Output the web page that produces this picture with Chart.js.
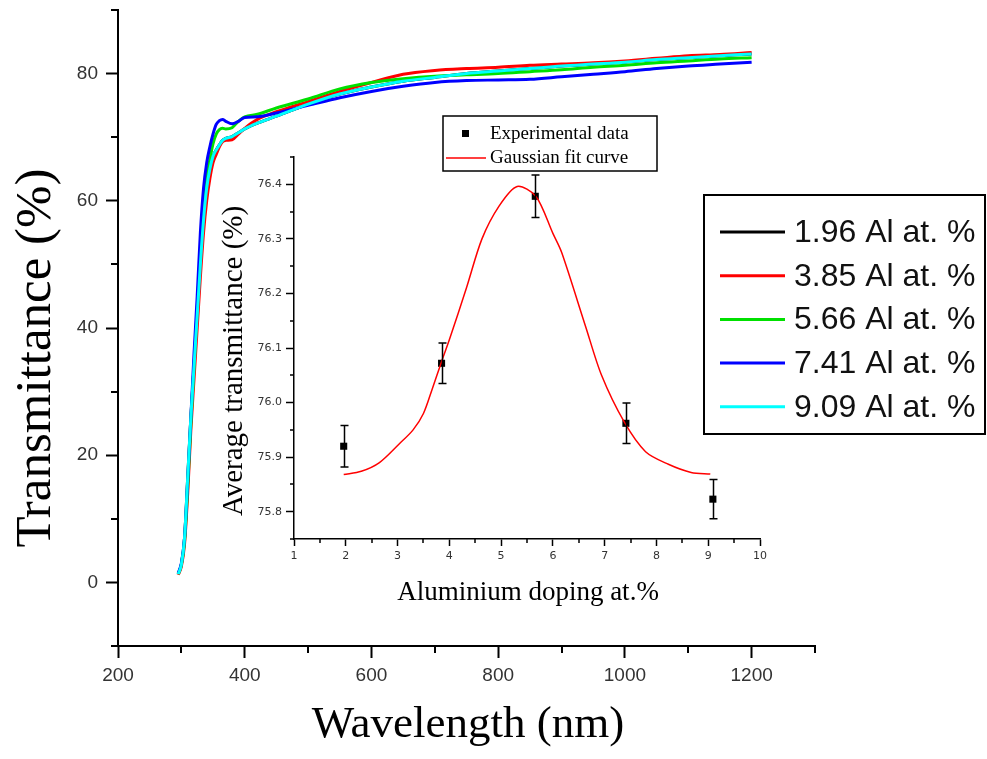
<!DOCTYPE html>
<html>
<head>
<meta charset="utf-8">
<title>Transmittance of Al-doped films</title>
<script src="https://cdn.jsdelivr.net/npm/chart.js@4.4.1/dist/chart.umd.min.js"></script>
<style>
body{margin:0;background:#fff;}
#wrap{position:relative;width:987px;height:759px;background:#fff;}
#wrap canvas{position:absolute;left:0;top:0;}
#insetChart{pointer-events:none;}
</style>
</head>
<body>
<div id="wrap">
<canvas id="mainChart" width="987" height="759"></canvas>
<canvas id="insetChart" width="987" height="759"></canvas>
</div>
<script>
// ---- spectra: wavelength (nm) vs transmittance (%) ----
const wavelength = [295,300,305,310,315,320,325,330,335,340,345,350,355,360,365,370,380,390,400,420,450,500,550,600,650,700,750,800,850,900,950,1000,1050,1100,1150,1200];

// 1.96 at.% sits underneath the 9.09 curve
const t196 = [1.3,2.8,7,16.5,26,34,42,50,57,62,65,67,68,68.8,69.5,69.8,70.1,70.7,71.3,72.2,73.3,75.2,76.8,77.9,78.8,79.4,80.0,80.4,80.8,81.2,81.5,81.8,82.2,82.5,82.8,83.1];
const t385 = [1.2,2.5,6,14,24,32,40,48,55,60,63.5,66,67.3,68.5,69.3,69.5,69.6,70.5,71.4,72.8,74.0,75.6,77.2,78.6,79.9,80.5,80.8,81.0,81.3,81.5,81.7,82.0,82.4,82.8,83.0,83.3];
const t566 = [1.3,2.8,6.5,15,25,34,43,52,59,63.5,66.5,69,70.5,71.2,71.4,71.3,71.5,72.5,73.2,73.6,74.6,76.0,77.6,78.6,79.2,79.6,79.8,80.0,80.3,80.6,81.0,81.3,81.7,82.0,82.3,82.5];
const t741 = [1.5,3,7,16,26,36,45,55,62,66,68.5,70.5,72,72.6,72.8,72.5,72.1,72.5,73.1,73.2,73.8,75.0,76.2,77.2,78.0,78.6,78.9,79.0,79.1,79.5,79.9,80.3,80.8,81.2,81.5,81.8];
const t909 = [1.3,2.8,7,16.5,26,34,42,50,57,62,65,67,68,68.8,69.5,69.8,70.1,70.7,71.3,72.2,73.3,75.2,76.8,77.9,78.8,79.4,80.0,80.4,80.8,81.2,81.5,81.8,82.2,82.5,82.8,83.1];

const spectra = [t196, t385, t566, t741, t909];
const spectraLabels = ['1.96 Al at. %','3.85 Al at. %','5.66 Al at. %','7.41 Al at. %','9.09 Al at. %'];
const spectraColors = ['#000000','#ff0000','#00e000','#0000ff','#00ffff'];

const xMajor = [200,400,600,800,1000,1200];
const xMinor = [300,500,700,900,1100,1300];
const yMajor = [0,20,40,60,80];
const yMinor = [-10,10,30,50,70,90];

// ---- inset: average transmittance vs doping ----
const doping = [1.96,3.85,5.66,7.41,9.09];
const avgT = [75.92,76.072,76.378,75.962,75.823];
const avgTErr = [0.038,0.037,0.039,0.037,0.036];
const fitX = [1.96,2.3,2.65,3.04,3.3,3.5,3.67,3.85,4.0,4.33,4.63,4.96,5.31,5.67,6.0,6.17,6.63,6.94,7.38,7.79,8.23,8.67,9.04];
const fitY = [75.868,75.874,75.89,75.925,75.95,75.98,76.025,76.075,76.115,76.21,76.30,76.36,76.396,76.378,76.31,76.275,76.14,76.05,75.964,75.91,75.887,75.872,75.869];

const insetXMajor = [1,2,3,4,5,6,7,8,9,10];
const insetXMinor = [1.5,2.5,3.5,4.5,5.5,6.5,7.5,8.5,9.5];
const insetYMajor = [75.8,75.9,76.0,76.1,76.2,76.3,76.4];
const insetYMinor = [75.75,75.85,75.95,76.05,76.15,76.25,76.35,76.45];

const SERIF = '"Liberation Serif", "Times New Roman", serif';
const SANS = '"Liberation Sans", Arial, sans-serif';
const WIDE_SANS = '"DejaVu Sans", sans-serif';

// short ticks between the labelled ones
function minorTicks(xs, ys, len, width) {
  return {
    id: 'minorTicks',
    afterDraw(chart) {
      const {ctx, chartArea, scales} = chart;
      ctx.save();
      ctx.strokeStyle = '#000';
      ctx.lineWidth = width;
      ctx.beginPath();
      xs.forEach(v => {
        const px = Math.round(scales.x.getPixelForValue(v));
        ctx.moveTo(px, chartArea.bottom);
        ctx.lineTo(px, chartArea.bottom + len);
      });
      ys.forEach(v => {
        const py = Math.round(scales.y.getPixelForValue(v));
        ctx.moveTo(chartArea.left, py);
        ctx.lineTo(chartArea.left - len, py);
      });
      ctx.stroke();
      ctx.restore();
    }
  };
}

// axis titles, placed by hand
function axisTitles(items) {
  return {
    id: 'axisTitles',
    afterDraw(chart) {
      const ctx = chart.ctx;
      items.forEach(t => {
        ctx.save();
        ctx.translate(t.x, t.y);
        if (t.rotate) ctx.rotate(-Math.PI / 2);
        ctx.font = t.font;
        ctx.fillStyle = '#000';
        ctx.textAlign = 'center';
        ctx.textBaseline = 'alphabetic';
        ctx.fillText(t.text, 0, 0);
        ctx.restore();
      });
    }
  };
}

const spectraLegend = {
  id: 'spectraLegend',
  afterDraw(chart) {
    const ctx = chart.ctx;
    ctx.save();
    ctx.strokeStyle = '#000';
    ctx.lineWidth = 2;
    ctx.strokeRect(704, 195, 281, 239);
    ctx.font = '32px ' + SANS;
    ctx.textBaseline = 'middle';
    spectraLabels.forEach((lab, i) => {
      const y = 232 + i * 43.7;
      ctx.strokeStyle = spectraColors[i];
      ctx.lineWidth = 3;
      ctx.beginPath();
      ctx.moveTo(720, y);
      ctx.lineTo(785, y);
      ctx.stroke();
      ctx.fillStyle = '#111';
      ctx.fillText(lab, 794, y + 1);
    });
    ctx.restore();
  }
};

const errorBars = {
  id: 'errorBars',
  afterDatasetsDraw(chart) {
    const {ctx, scales} = chart;
    ctx.save();
    ctx.strokeStyle = '#000';
    ctx.lineWidth = 1.5;
    ctx.beginPath();
    doping.forEach((d, i) => {
      const x = Math.round(scales.x.getPixelForValue(d)) + 0.5;
      const top = scales.y.getPixelForValue(avgT[i] + avgTErr[i]);
      const bot = scales.y.getPixelForValue(avgT[i] - avgTErr[i]);
      ctx.moveTo(x, top); ctx.lineTo(x, bot);
      ctx.moveTo(x - 4, top); ctx.lineTo(x + 4, top);
      ctx.moveTo(x - 4, bot); ctx.lineTo(x + 4, bot);
    });
    ctx.stroke();
    ctx.restore();
  }
};

const insetLegend = {
  id: 'insetLegend',
  afterDraw(chart) {
    const ctx = chart.ctx;
    ctx.save();
    ctx.fillStyle = '#fff';
    ctx.fillRect(443, 116, 214, 55);
    ctx.strokeStyle = '#000';
    ctx.lineWidth = 1.5;
    ctx.strokeRect(443, 116, 214, 55);
    ctx.fillStyle = '#000';
    ctx.fillRect(462, 130, 7, 7);
    ctx.strokeStyle = '#ff0000';
    ctx.lineWidth = 1.5;
    ctx.beginPath();
    ctx.moveTo(446, 158);
    ctx.lineTo(486, 158);
    ctx.stroke();
    ctx.fillStyle = '#000';
    ctx.font = '19px ' + SERIF;
    ctx.textBaseline = 'middle';
    ctx.fillText('Experimental data', 490, 134);
    ctx.fillText('Gaussian fit curve', 490, 158);
    ctx.restore();
  }
};

function axisOpts(min, max, ticks, label, font, tickLen, lineW, pad) {
  return {
    type: 'linear', min: min, max: max,
    afterBuildTicks: s => { s.ticks = ticks.map(v => ({value: v})); },
    grid: {drawOnChartArea: false, drawTicks: true, tickLength: tickLen, tickWidth: lineW, tickColor: '#000'},
    border: {display: true, color: '#000', width: lineW},
    ticks: {autoSkip: false, maxRotation: 0, padding: pad, color: '#333', font: font, callback: label}
  };
}

// fixed axis box sizes, and no extra room for overhanging labels
function fixX(h) {
  return s => { s.height = h; s.paddingLeft = 0; s.paddingRight = 0; };
}
function fixY(w) {
  return s => { s.width = w; s.paddingTop = 0; s.paddingBottom = 0; };
}

const mainFont = {family: SANS, size: 19};
const mainX = axisOpts(200, 1300, xMajor, v => String(v), mainFont, 12, 2, 6);
mainX.afterFit = fixX(113);
const mainY = axisOpts(-10, 90, yMajor, v => String(v), mainFont, 12, 2, 8);
mainY.afterFit = fixY(118);

new Chart(document.getElementById('mainChart'), {
  type: 'line',
  data: {
    datasets: spectra.map((vals, i) => ({
      label: spectraLabels[i],
      data: wavelength.map((w, k) => ({x: w, y: vals[k]})),
      borderColor: spectraColors[i],
      borderWidth: 3,
      pointRadius: 0,
      fill: false,
      cubicInterpolationMode: 'monotone',
      order: spectra.length - 1 - i
    }))
  },
  options: {
    responsive: false,
    animation: false,
    events: [],
    layout: {padding: {top: 10, right: 172, left: 0, bottom: 0}},
    plugins: {legend: {display: false}, tooltip: {enabled: false}},
    scales: {x: mainX, y: mainY}
  },
  plugins: [
    minorTicks(xMinor, yMinor, 7, 2),
    axisTitles([
      {text: 'Wavelength (nm)', x: 468, y: 737, font: '45px ' + SERIF},
      {text: 'Transmittance (%)', x: 50, y: 358, rotate: true, font: '51px ' + SERIF}
    ]),
    spectraLegend
  ]
});

const insetFont = {family: WIDE_SANS, size: 11};
const insX = axisOpts(1, 10, insetXMajor, v => String(v), insetFont, 7, 1.5, 4);
insX.afterFit = fixX(220);
const insY = axisOpts(75.75, 76.45, insetYMajor, v => v.toFixed(1), insetFont, 8, 1.5, 4);
insY.afterFit = fixY(294);

new Chart(document.getElementById('insetChart'), {
  type: 'line',
  data: {
    datasets: [
      {
        label: 'Gaussian fit curve',
        data: fitX.map((x, i) => ({x: x, y: fitY[i]})),
        borderColor: '#ff0000',
        borderWidth: 1.5,
        pointRadius: 0,
        fill: false,
        tension: 0.3
      },
      {
        label: 'Experimental data',
        data: doping.map((x, i) => ({x: x, y: avgT[i]})),
        showLine: false,
        pointStyle: 'rect',
        pointRadius: 5,
        backgroundColor: '#000',
        borderColor: '#000',
        borderWidth: 0
      }
    ]
  },
  options: {
    responsive: false,
    animation: false,
    events: [],
    layout: {padding: {top: 157, right: 227, left: 0, bottom: 0}},
    plugins: {legend: {display: false}, tooltip: {enabled: false}},
    scales: {x: insX, y: insY}
  },
  plugins: [
    minorTicks(insetXMinor, insetYMinor, 4, 1.5),
    errorBars,
    axisTitles([
      {text: 'Aluminium doping at.%', x: 528, y: 600, font: '27px ' + SERIF},
      {text: 'Average transmittance (%)', x: 242, y: 361, rotate: true, font: '29px ' + SERIF}
    ]),
    insetLegend
  ]
});
</script>
</body>
</html>
